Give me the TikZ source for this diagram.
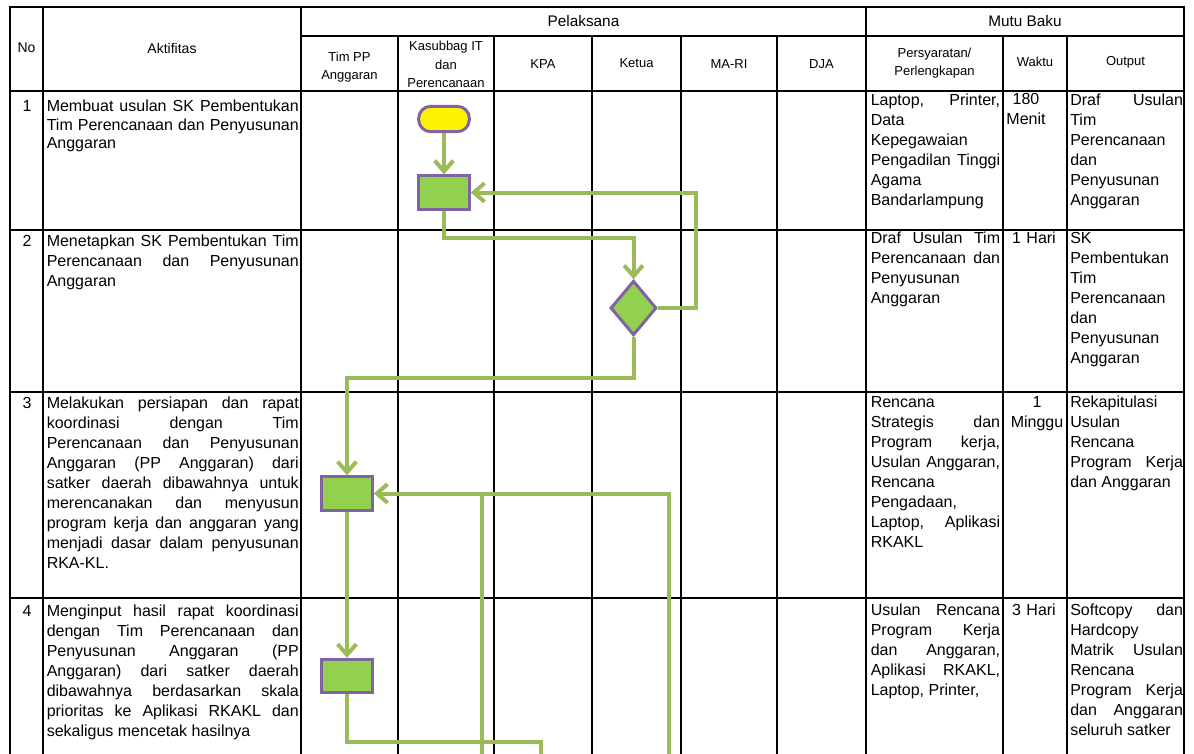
\documentclass[tikz,border=0pt]{standalone}
\usepackage{fontspec}
\setmainfont{Liberation Sans}
\usetikzlibrary{shapes.geometric,arrows.meta}
\definecolor{garis}{HTML}{9BBB59}
\definecolor{hijau}{HTML}{92D050}
\definecolor{ungu}{HTML}{8064A2}
\hyphenpenalty=10000
\exhyphenpenalty=10000

\begin{document}
\begin{tikzpicture}[x=0.75pt, y=-0.75pt, >={Straight Barb[length=8pt,width=14pt]},
		tabel/.style={line width=1.1pt, line cap=rect},
		judul/.style={align=center, inner sep=0pt, font=\fontsize{11.5}{14}\selectfont},
		kepala/.style={align=center, inner sep=0pt, font=\fontsize{9.75}{14}\selectfont},
		isi/.style={anchor=base west, inner sep=0pt, align=justify, font=\fontsize{12}{15}\selectfont},
		aktif/.style={isi, text width=189pt},
		syarat/.style={isi, text width=97pt},
		waktu/.style={isi, anchor=base, align=center, text width=46pt},
		hasil/.style={isi, text width=84.5pt},
		nomor/.style={anchor=base, inner sep=0pt, font=\fontsize{12}{15}\selectfont},
		proses/.style={draw=ungu, fill=hijau, line width=2.25pt, minimum width=38pt, minimum height=25pt, inner sep=0pt},
		mulai/.style={proses, fill=yellow, minimum height=19pt, rounded corners=9pt},
		putusan/.style={diamond, draw=ungu, fill=hijau, line width=2.25pt, minimum width=34.5pt, minimum height=41pt, inner sep=0pt},
		alur/.style={draw=garis, line width=3pt},
	]
		\path[fill=white] (0,0) rectangle (1194,753);
		\useasboundingbox (0,0) rectangle (1194,753);
		% table grid
		\foreach \y in {7,91,230,392,598} \draw[tabel] (10,\y) -- (1184,\y);
		\draw[tabel] (301,36) -- (1184,36);
		\foreach \x in {10,43,301,866,1184} \draw[tabel] (\x,7) -- (\x,770);
		\foreach \x in {398,494,592,681,777,1003,1067} \draw[tabel] (\x,36) -- (\x,770);
		% header
		\node[judul] (hpel) at (583.5,21.5) {Pelaksana};
		\node[judul] (hmutu) at (1025,21.5) {Mutu Baku};
		\node[kepala, font=\fontsize{10.5}{14}\selectfont] (hno) at (26.5,48) {No};
		\node[kepala, font=\fontsize{10.5}{14}\selectfont] (hakt) at (172,48) {Aktifitas};
		\node[kepala] (htim) at (349.5,67) {Tim PP\\Anggaran};
		\node[kepala] (hkas) at (446,64.5) {Kasubbag IT\\dan\\Perencanaan};
		\node[kepala] (hkpa) at (543,64) {KPA};
		\node[kepala] (hket) at (636.5,63) {Ketua};
		\node[kepala] (hma) at (729,64) {MA-RI};
		\node[kepala] (hdja) at (821.5,64) {DJA};
		\node[kepala] (hsya) at (934.5,63) {Persyaratan/\\Perlengkapan};
		\node[kepala] (hwak) at (1035,62) {Waktu};
		\node[kepala] (hout) at (1125.5,62) {Output};
		%%% row 1
		\node[nomor] (n1) at (27,111.7) {1};
		\node[aktif, font=\fontsize{12}{13.75}\selectfont] (a1) at (46.5,111.7) {Membuat usulan SK Pembentukan\linebreak Tim Perencanaan dan Penyusunan\linebreak Anggaran};
		\node[syarat] (s1) at (870.5,105.5) {Laptop, Printer,\linebreak Data\linebreak Kepegawaian\linebreak Pengadilan Tinggi\linebreak Agama\linebreak Bandarlampung};
		\node[waktu] (w1) at (1026,104.5) {180\\Menit};
		\node[hasil] (o1) at (1070,105.5) {Draf Usulan\linebreak Tim\linebreak Perencanaan\linebreak dan\linebreak Penyusunan\linebreak Anggaran};
		%%% row 2
		\node[nomor] (n2) at (27,246.7) {2};
		\node[aktif] (a2) at (46.5,246.7) {Menetapkan SK Pembentukan Tim\linebreak Perencanaan dan Penyusunan\linebreak Anggaran};
		\node[syarat] (s2) at (870.5,243.5) {Draf Usulan Tim\linebreak Perencanaan dan\linebreak Penyusunan\linebreak Anggaran};
		\node[waktu] (w2) at (1034,243.5) {1 Hari};
		\node[hasil] (o2) at (1070,243.5) {SK\linebreak Pembentukan\linebreak Tim\linebreak Perencanaan\linebreak dan\linebreak Penyusunan\linebreak Anggaran};
		%%% row 3
		\node[nomor] (n3) at (27,408.3) {3};
		\node[aktif] (a3) at (46.5,408.3) {Melakukan persiapan dan rapat\linebreak koordinasi dengan Tim\linebreak Perencanaan dan Penyusunan\linebreak Anggaran (PP Anggaran) dari\linebreak satker daerah dibawahnya untuk\linebreak merencanakan dan menyusun\linebreak program kerja dan anggaran yang\linebreak menjadi dasar dalam penyusunan\linebreak RKA-KL.};
		\node[syarat] (s3) at (870.5,407.5) {Rencana\linebreak Strategis dan\linebreak Program kerja,\linebreak Usulan Anggaran,\linebreak Rencana\linebreak Pengadaan,\linebreak Laptop, Aplikasi\linebreak RKAKL};
		\node[waktu] (w3) at (1037,407.5) {1\\Minggu};
		\node[hasil] (o3) at (1070,407.5) {Rekapitulasi\linebreak Usulan\linebreak Rencana\linebreak Program Kerja\linebreak dan Anggaran};
		%%% row 4
		\node[nomor] (n4) at (27,616) {4};
		\node[aktif] (a4) at (46.5,616) {Menginput hasil rapat koordinasi\linebreak dengan Tim Perencanaan dan\linebreak Penyusunan Anggaran (PP\linebreak Anggaran) dari satker daerah\linebreak dibawahnya berdasarkan skala\linebreak prioritas ke Aplikasi RKAKL dan\linebreak sekaligus mencetak hasilnya};
		\node[syarat] (s4) at (870.5,615) {Usulan Rencana\linebreak Program Kerja\linebreak dan Anggaran,\linebreak Aplikasi RKAKL,\linebreak Laptop, Printer,};
		\node[waktu] (w4) at (1034,615) {3 Hari};
		\node[hasil] (o4) at (1070,615) {Softcopy dan\linebreak Hardcopy\linebreak Matrik Usulan\linebreak Rencana\linebreak Program Kerja\linebreak dan Anggaran\linebreak seluruh satker};
		%%% flow shapes
		\node[mulai] (start) at (444,119) {};
		\node[proses] (p1) at (444,192.5) {};
		\node[putusan] (d1) at (633.5,308) {};
		\node[proses] (p2) at (347,493.5) {};
		\node[proses] (p3) at (347,676) {};
		\coordinate (balik1) at (669,770);
		\coordinate (balik2) at (482,770);
		\coordinate (lanjut) at (541,770);
		% connectors
		\draw[alur, ->] (start) -- (p1);
		\draw[alur, ->] (p1.south) -- ++(0,27) -| (d1.north);
		\draw[alur, ->] (d1.east) -- ++(38,0) |- (p1.east);
		\draw[alur, ->] (d1.south) -- ++(0,41) -| (p2.north);
		\draw[alur, ->] (balik1) |- (p2.east);
		\draw[alur] (balik2) -- (balik2 |- p2.east);
		\draw[alur, ->] (p2) -- (p3);
		\draw[alur] (p3.south) -- ++(0,48) -| (lanjut);
	\end{tikzpicture}
\end{document}
